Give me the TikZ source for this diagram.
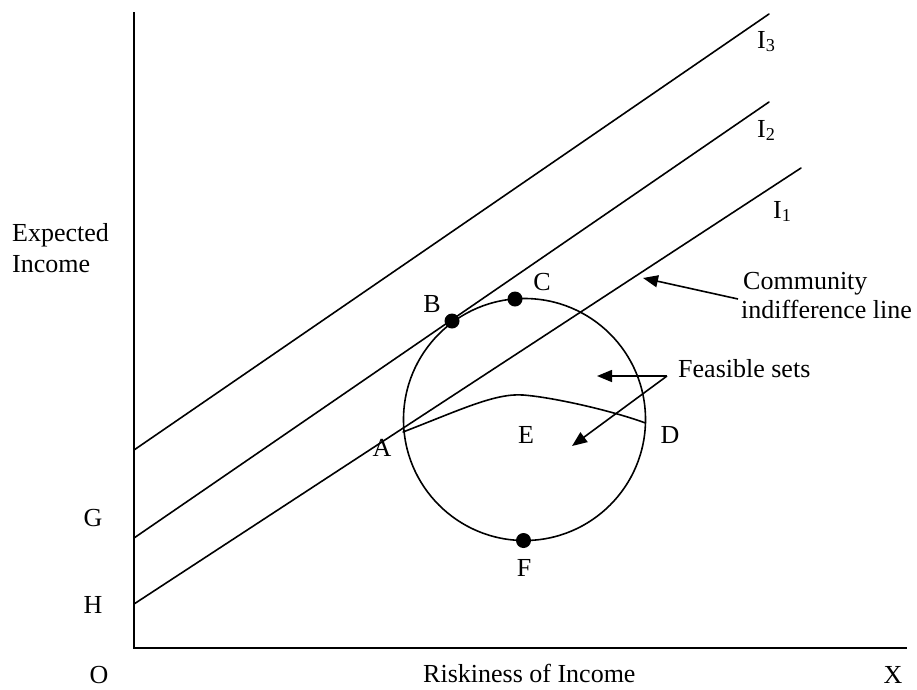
\documentclass[tikz,border=0pt]{standalone}
\usepackage{fontspec}
\setmainfont{Liberation Serif}
\usetikzlibrary{arrows.meta}
\begin{document}
\begin{tikzpicture}[x=1pt,y=-1pt,
  ln/.style={line width=1.6pt, line cap=round},
  lbl/.style={inner sep=0pt, font=\fontsize{26}{30}\selectfont},
  dot/.style={circle, fill=black, inner sep=0pt, minimum size=15pt},
  arr/.style={line width=1.6pt, -{Triangle[length=15pt,width=12pt]}}]
\useasboundingbox (0,0) rectangle (917,689);
% axes
\coordinate (top) at (134,12);
\coordinate (O) at (134,648);
\coordinate (Xend) at (907,648);
\draw[ln, line cap=butt] (top) -- (O) -- (Xend);
% indifference lines
\coordinate (I3s) at (134,450); \coordinate (I3e) at (769,14);
\coordinate (I2s) at (134,538); \coordinate (I2e) at (769,102);
\coordinate (I1s) at (134,604); \coordinate (I1e) at (801,168);
\draw[ln] (I3s) -- (I3e);
\draw[ln] (I2s) -- (I2e);
\draw[ln] (I1s) -- (I1e);
% circle
\coordinate (ctr) at (524.5,419.5);
\draw[ln] (ctr) circle[radius=121];
% curve A-D
\coordinate (Apt) at (403,432);
\coordinate (peak) at (523,395);
\coordinate (Dpt) at (645.5,423);
\draw[ln] (Apt) .. controls (460,410) and (495,393) .. (peak)
                .. controls (551,397) and (610,410) .. (Dpt);
% dots
\node[dot] (Bd) at (452,321) {};
\node[dot] (Cd) at (515,299) {};
\node[dot] (Fd) at (523.5,540.5) {};
% point labels
\node[lbl] (A) at (382,448) {A};
\node[lbl] (B) at (432,304) {B};
\node[lbl] (C) at (542,282) {C};
\node[lbl] (D) at (670,435) {D};
\node[lbl] (E) at (526,435) {E};
\node[lbl] (F) at (524,568) {F};
\node[lbl] (G) at (93,518) {G};
\node[lbl] (H) at (93,605) {H};
\node[lbl] (Ol) at (99,675) {O};
\node[lbl] (X) at (893,675) {X};
\node[lbl, anchor=base west] (I3) at (757,48) {I\textsubscript{3}};
\node[lbl, anchor=base west] (I2) at (757,137) {I\textsubscript{2}};
\node[lbl, anchor=base west] (I1) at (773,218) {I\textsubscript{1}};
% axis titles
\node[lbl, anchor=base west] (ey1) at (12,241) {Expected};
\node[lbl, anchor=base west] (ey2) at (12,272) {Income};
\node[lbl, anchor=base west] (xt) at (423,682) {Riskiness of Income};
% community indifference line
\node[lbl, anchor=base west] (cm1) at (743,289) {Community};
\node[lbl, anchor=base west] (cm2) at (741,318) {indifference line};
\coordinate (cmtail) at (738,299);
\coordinate (cmtip) at (643,278);
\draw[arr] (cmtail) -- (cmtip);
% feasible sets
\node[lbl, anchor=base west] (fs) at (678,377) {Feasible sets};
\coordinate (fj) at (667,376);
\coordinate (ft1) at (597,376);
\coordinate (ft2) at (572,446);
\draw[arr] (fj) -- (ft1);
\draw[arr] (fj) -- (ft2);
\end{tikzpicture}
\end{document}
